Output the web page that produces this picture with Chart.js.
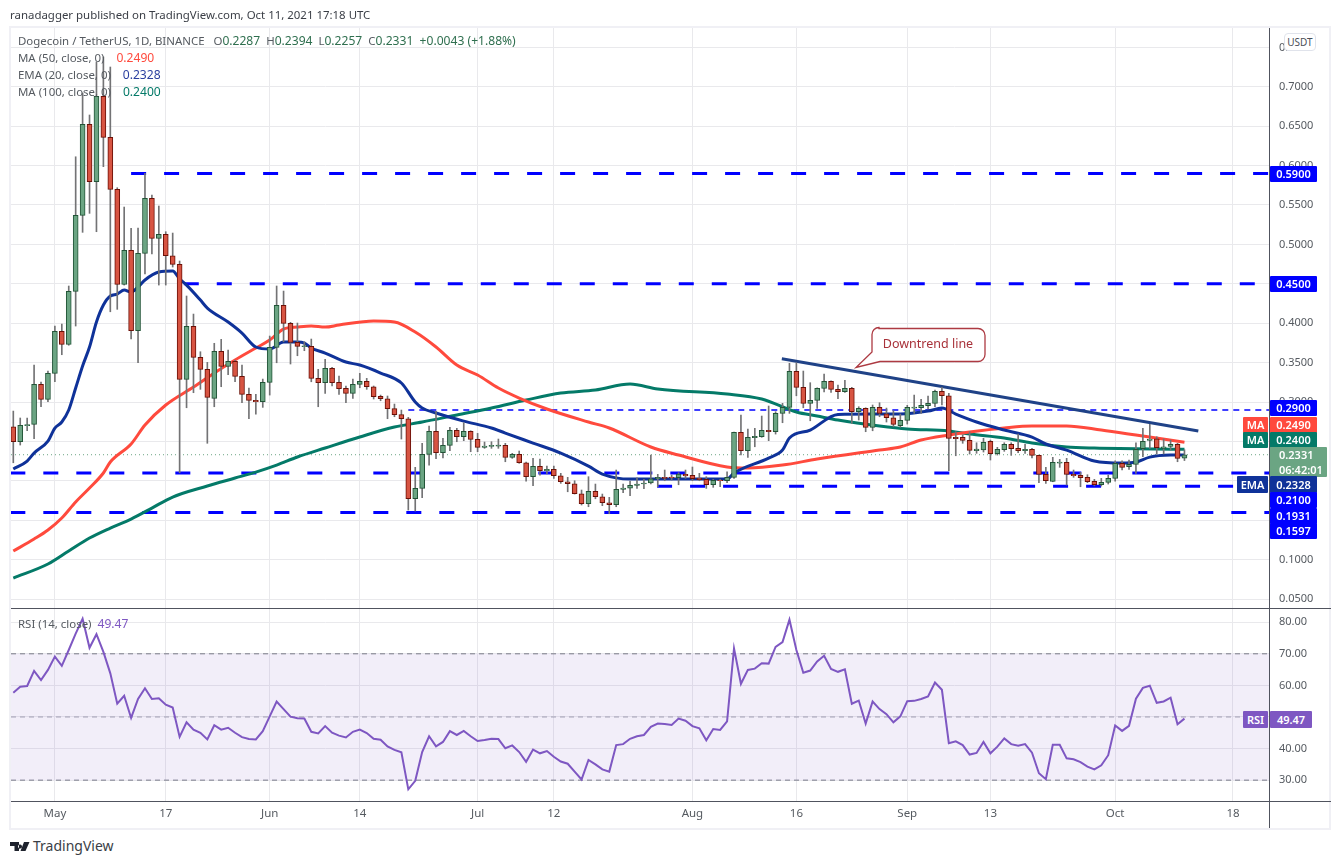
<!DOCTYPE html>
<html><head><meta charset="utf-8">
<script src="https://cdn.jsdelivr.net/npm/chart.js@4"></script>
<style>
html,body{margin:0;padding:0;background:#fff;width:1341px;height:864px;overflow:hidden;font-family:"Noto Sans",sans-serif}
canvas{position:absolute;left:0;display:block}
.t{position:absolute;white-space:pre;font-size:11.45px;line-height:17px;color:#555a60}
.b{position:absolute;color:#fff;font-size:11px;font-weight:600;text-align:center;height:16px;line-height:16px;border-radius:1px}
.hl,.vl{position:absolute;background:#50535e}
</style></head><body>
<div style="position:absolute;left:9px;top:26px;width:1322px;height:804px;box-sizing:border-box;border:2px solid #f0f0f5"></div>
<canvas id="main" width="1331" height="608" style="top:0"></canvas>
<canvas id="rsi" width="1331" height="220" style="top:608px"></canvas>
<div class="hl" style="left:11px;top:608px;width:1320px;height:1px"></div>
<div class="hl" style="left:11px;top:801px;width:1320px;height:1px"></div>
<div class="vl" style="left:1269px;top:28px;width:1px;height:800px"></div>
<div id="overlay"></div>
<svg style="position:absolute;left:0;top:0" width="1341" height="864">
<path d="M879 328.5h99a7 7 0 0 1 7 7v19a7 7 0 0 1-7 7h-98l-24 6 16-15.500v-17.500a7 7 0 0 1 7-7z" fill="#fff" stroke="#ad3a42" stroke-width="1.3"/>
<text x="928" y="348" text-anchor="middle" font-family="Noto Sans" font-size="12.5" fill="#a8323a">Downtrend line</text>
<path d="M10 842h9v9h-4.500v-5H10z M20 844.500a2 2 0 1 0 .01 0z M24 842h5.500l-4 9h-5z" fill="#1e222d"/>
</svg>
<script>
const opens=[.2686,.2496,.2701,.2717,.3224,.3034,.3364,.3897,.3732,.4404,.5369,.6524,.5795,.6879,.6359,.5699,.4493,.4925,.3904,.4887,.5585,.5077,.5128,.4856,.4747,.3288,.3960,.3567,.3415,.3047,.3643,.3453,.3516,.3326,.3097,.3021,.3003,.3250,.3694,.4227,.3998,.3757,.3701,.3706,.3300,.3245,.3427,.3250,.3173,.3110,.3224,.3262,.3194,.3072,.3041,.2915,.2839,.2788,.1772,.1904,.2336,.2628,.2356,.2450,.2640,.2559,.2628,.2526,.2425,.2437,.2441,.2450,.2298,.2336,.2229,.2052,.2184,.2128,.2145,.2064,.1988,.1963,.1836,.1709,.1866,.1798,.1722,.1696,.1892,.1908,.1942,.1959,.1972,.2026,.2044,.2048,.2039,.2082,.2069,.2035,.2019,.1950,.2010,.2001,.2044,.2615,.2382,.2547,.2559,.2640,.2623,.2856,.2932,.3389,.3186,.2983,.3021,.3173,.3262,.3161,.3130,.3173,.2877,.2920,.2679,.2932,.2851,.2800,.2699,.2767,.2923,.2927,.2953,.2983,.3135,.3079,.2552,.2552,.2514,.2382,.2391,.2501,.2343,.2394,.2463,.2412,.2382,.2399,.2323,.2082,.1993,.2225,.2234,.2082,.2069,.2044,.1993,.1950,.1981,.2031,.2222,.2179,.2209,.2407,.2514,.2534,.2412,.2437,.2463,.2287];
const highs=[.2885,.2797,.2797,.3469,.3253,.3393,.3964,.3989,.4472,.6112,.6921,.6642,.7314,.7378,.7251,.5719,.5474,.5204,.5208,.5902,.5626,.5487,.5161,.5144,.4789,.4345,.4116,.3638,.3503,.3745,.3795,.3659,.3533,.3469,.3177,.3097,.3291,.3837,.4472,.4408,.4011,.4002,.3765,.3799,.3415,.3541,.3440,.3330,.3203,.3291,.3364,.3300,.3203,.3088,.3076,.2974,.2898,.2805,.2171,.2476,.2695,.2882,.2539,.2679,.2666,.2737,.2635,.2602,.2492,.2496,.2530,.2476,.2349,.2378,.2238,.2285,.2276,.2187,.2187,.2095,.2044,.2001,.1883,.2052,.1959,.1832,.1790,.2137,.1959,.1997,.2039,.2019,.2327,.2082,.2137,.2073,.2102,.2137,.2175,.2095,.2052,.2019,.2019,.2115,.2619,.2835,.2657,.2666,.2822,.2949,.2877,.2983,.3491,.3498,.3393,.3245,.3181,.3355,.3270,.3215,.3275,.3186,.2940,.2927,.2962,.2991,.2923,.2889,.2847,.2958,.3088,.3034,.3076,.3152,.3186,.3110,.2623,.2581,.2623,.2483,.2539,.2517,.2425,.2483,.2483,.2593,.2463,.2412,.2327,.2171,.2298,.2272,.2285,.2137,.2107,.2077,.2019,.2031,.2073,.2255,.2255,.2264,.2483,.2666,.2717,.2559,.2530,.2517,.2476,.2394];
const lows=[.2229,.2454,.2635,.2534,.2940,.3003,.3257,.3600,.3720,.3964,.5153,.5394,.5161,.5986,.4145,.4176,.4484,.3799,.3498,.4624,.4878,.4484,.4484,.4713,.2102,.2927,.3118,.3161,.2476,.2940,.3194,.3346,.3257,.2991,.2788,.2847,.2932,.3088,.3498,.3765,.3482,.3587,.3651,.3257,.2940,.3110,.3203,.3097,.2991,.3047,.3181,.3161,.3038,.3016,.2788,.2813,.2530,.1629,.1616,.1785,.2200,.2280,.2289,.2382,.2496,.2509,.2369,.2369,.2412,.2412,.2412,.2242,.2285,.2222,.1997,.1937,.2073,.2086,.2031,.1968,.1861,.1832,.1693,.1671,.1772,.1684,.1582,.1671,.1849,.1811,.1904,.1899,.1959,.1925,.2001,.2010,.1950,.2031,.2001,.2001,.1904,.1917,.1925,.1976,.2031,.2327,.2298,.2432,.2552,.2509,.2593,.2737,.2856,.3079,.2927,.2762,.2920,.3127,.3123,.3042,.3123,.2729,.2771,.2623,.2635,.2813,.2746,.2686,.2679,.2720,.2856,.2856,.2911,.2940,.2962,.2128,.2318,.2476,.2340,.2349,.2365,.2264,.2327,.2374,.2323,.2356,.2349,.2289,.1976,.1968,.1988,.2171,.1946,.2044,.1925,.1976,.1937,.1934,.1959,.1997,.2137,.2145,.2095,.2305,.2412,.2340,.2340,.2391,.2242,.2257];
const closes=[.2496,.2704,.2714,.3224,.3034,.3364,.3897,.3732,.4404,.5369,.6524,.5795,.6879,.6359,.5699,.4493,.4925,.3904,.4887,.5585,.5077,.5128,.4856,.4747,.3288,.3960,.3567,.3415,.3059,.3643,.3453,.3516,.3326,.3097,.3021,.3003,.3250,.3694,.4227,.3998,.3757,.3706,.3714,.3300,.3245,.3427,.3245,.3168,.3110,.3224,.3262,.3194,.3067,.3041,.2915,.2839,.2788,.1772,.1904,.2336,.2628,.2356,.2450,.2640,.2559,.2628,.2526,.2425,.2441,.2450,.2454,.2298,.2336,.2229,.2052,.2184,.2128,.2145,.2064,.1988,.1963,.1836,.1709,.1866,.1798,.1722,.1696,.1892,.1908,.1942,.1959,.1972,.2026,.2044,.2031,.2039,.2086,.2061,.2026,.2014,.1950,.2006,.2001,.2044,.2615,.2382,.2552,.2564,.2640,.2623,.2856,.2932,.3389,.3186,.2983,.3021,.3173,.3262,.3161,.3130,.3173,.2877,.2920,.2679,.2932,.2856,.2800,.2717,.2767,.2932,.2936,.2958,.2983,.3135,.3079,.2539,.2534,.2514,.2387,.2403,.2488,.2343,.2399,.2463,.2407,.2382,.2399,.2323,.2082,.2001,.2234,.2238,.2082,.2064,.2039,.1988,.1950,.1981,.2031,.2222,.2171,.2209,.2399,.2501,.2530,.2420,.2432,.2463,.2285,.2331];
const rsiValues=[57.7,59.6,59.8,64.6,61.7,64.9,69.1,66.2,71.2,76.4,81.1,71.9,76.2,70.6,63.8,54.2,56.7,49.7,55.7,59.1,55.7,55.9,53.9,53.0,43.7,48.3,46.0,45.0,42.9,47.4,46.0,46.6,45.0,43.6,43.0,42.9,45.5,50.2,54.9,52.5,50.1,49.6,49.5,45.3,44.8,47.1,45.0,44.1,43.5,45.3,46.0,44.9,43.1,42.8,40.7,39.6,38.8,27.1,29.8,38.9,43.9,40.7,42.1,45.5,44.3,45.6,43.9,42.4,42.7,43.1,43.0,40.1,41.0,38.9,35.8,39.7,38.5,39.2,37.4,35.9,35.2,32.7,30.2,36.4,35.0,33.4,32.7,41.1,41.4,43.1,43.9,44.3,46.9,47.9,47.8,47.5,49.5,48.8,47.1,46.4,42.6,46.2,45.9,48.6,71.7,60.5,64.9,65.3,67.0,66.9,72.2,73.7,80.8,71.2,64.0,64.7,67.6,69.4,65.2,64.3,65.1,54.2,55.2,47.9,54.9,52.5,50.9,48.3,50.2,55.0,55.1,55.7,56.5,60.9,58.6,41.7,42.3,41.1,38.1,38.6,42.1,38.5,40.6,43.2,41.4,40.9,41.4,38.7,32.2,30.3,41.2,41.2,36.9,36.6,35.7,34.3,33.4,34.7,37.9,47.3,45.6,47.2,55.8,59.2,59.9,54.5,54.9,56.1,47.7,49.47];

const emaDays=[0,2,3,5,6,7,8,9,10,11,12,13,14,15,16,17,18,19,21,23,24,25,27,28,31,33,35,37,39,41,42,43,45,48,50,53,56,58,59,61,65,69,71,75,79,83,85,89,103,104,109,111,112,115,119,124,128,132,134,136,139,143,147,149,152,156,160,162,164,167,169];
const emaValues=[.2149,.2251,.2352,.2505,.2670,.2746,.2898,.3177,.3457,.3698,.4015,.4230,.4345,.4370,.4421,.4396,.4459,.4548,.4649,.4662,.4561,.4484,.4294,.4192,.4015,.3875,.3698,.3672,.3761,.3761,.3748,.3685,.3621,.3507,.3469,.3368,.3241,.3000,.2923,.2860,.2758,.2670,.2606,.2479,.2352,.2187,.2086,.2022,.2022,.2099,.2289,.2390,.2543,.2644,.2841,.2847,.2847,.2885,.2923,.2847,.2746,.2644,.2555,.2467,.2390,.2251,.2225,.2238,.2301,.2327,.2328];
const ma50Days=[0,3,5,7,9,11,13,14,17,19,22,26,29,32,35,37,39,41,43,45,47,52,55,58,61,64,67,70,73,77,83,86,92,96,103,106,111,116,125,128,131,135,138,143,147,152,157,162,169];
const ma50Values=[.1109,.1261,.1375,.1528,.1731,.1908,.2099,.2238,.2467,.2708,.2962,.3190,.3368,.3533,.3685,.3786,.3926,.3951,.3964,.3951,.3977,.4028,.4015,.3888,.3698,.3469,.3342,.3177,.3050,.2911,.2746,.2670,.2429,.2327,.2175,.2162,.2200,.2276,.2391,.2429,.2517,.2581,.2619,.2670,.2695,.2695,.2644,.2581,.2490];
const ma100Days=[0,5,8,11,14,17,20,23,28,32,35,38,41,45,50,55,59,64,69,74,79,84,89,93,103,108,113,116,119,125,129,135,138,143,147,152,156,169];
const ma100Values=[.0766,.0944,.1109,.1274,.1401,.1515,.1654,.1794,.1934,.2035,.2111,.2200,.2302,.2416,.2556,.2682,.2746,.2835,.2923,.3025,.3114,.3152,.3228,.3165,.3101,.3038,.2873,.2822,.2771,.2695,.2657,.2632,.2593,.2543,.2479,.2429,.2416,.2400];

const tickDays=[6,22,37,50,67,78,98,113,129,141,159,176];
const tickNames=["May","17","Jun","14","Jul","12","Aug","16","Sep","13","Oct","18"];
const priceTicks=[.05,.10,.15,.20,.25,.30,.35,.40,.45,.50,.55,.60,.65,.70,.75];
const rsiTicks=[30,40,50,60,70,80];
const levelPrices=[.59,.45,.29,.21,.1931,.1597];
const levelStarts=[17,24.6,57,-.43,92.9,-.43];
const trendDays=[110.9,171];
const trendPrices=[.3549,.2631];
const lastPrice=.2331;
const rsiLevels=[70,50,30];

const xMin=-.332, xMax=181.2;
const days=opens.map((_,i)=>i);
const pairs=(xs,ys)=>xs.map((x,i)=>({x,y:ys[i]}));
const up=days.map(i=>closes[i]>=opens[i]);
const line=(data,color,width,order,extra)=>Object.assign({type:'line',data,borderColor:color,borderWidth:width,pointRadius:0,tension:0,order,fill:false,borderCapStyle:'butt'},extra||{});
const smooth={cubicInterpolationMode:'monotone'};
const grid='#e9e9ec';
const xAxis=(show)=>({type:'linear',min:xMin,max:xMax,offset:false,
  afterBuildTicks(s){s.ticks=tickDays.map(v=>({value:v}))},
  afterFit(s){s.height=show?27:0;s.paddingLeft=0;s.paddingRight=0;s.paddingTop=0;s.paddingBottom=0},
  grid:{color:grid,lineWidth:1,drawTicks:false,offset:false},border:{display:false},
  ticks:{display:show,maxRotation:0,autoSkip:false,padding:6,color:'#555a60',font:{family:'Noto Sans',size:11.5},
    callback(v){const k=tickDays.indexOf(v);return k<0?'':tickNames[k]}}});
const yAxis=(min,max,ticks,dec)=>({position:'right',min,max,
  afterBuildTicks(s){s.ticks=ticks.map(v=>({value:v}))},
  afterFit(s){s.width=62;s.paddingLeft=0;s.paddingRight=0;s.paddingTop=0;s.paddingBottom=0},
  grid:{color:grid,lineWidth:1,drawTicks:false},border:{display:false},
  ticks:{padding:10,color:'#555a60',font:{family:'Noto Sans',size:11},callback(v){return v.toFixed(dec)}}});
const base={responsive:false,animation:false,devicePixelRatio:1,events:[],
  plugins:{legend:{display:false},tooltip:{enabled:false}}};
Chart.defaults.font.family='Noto Sans';

new Chart(document.getElementById('main'),{type:'bar',data:{datasets:[
  {label:'Body',data:days.map(i=>({x:i,y:[opens[i],closes[i]]})),barThickness:5,grouped:false,borderWidth:1,borderSkipped:false,
   backgroundColor:up.map(u=>u?'#6ba583':'#d75442'),borderColor:up.map(u=>u?'#225437':'#6b1007'),order:0},
  {label:'Wick',data:days.map(i=>({x:i,y:[lows[i],highs[i]]})),barThickness:1,grouped:false,borderWidth:0,backgroundColor:'#737375',order:1},
  line(pairs(trendDays,trendPrices),'#1f4287',3,2,{label:'Downtrend line'}),
  line(pairs(emaDays,emaValues),'#0f3299',3,3,Object.assign({label:'EMA (20)'},smooth)),
  line(pairs(ma50Days,ma50Values),'#ff4a3d',3,4,Object.assign({label:'MA (50)'},smooth)),
  line(pairs(ma100Days,ma100Values),'#047a68',3,5,Object.assign({label:'MA (100)'},smooth)),
  ...levelPrices.map((p,k)=>line([{x:levelStarts[k],y:p},{x:xMax,y:p}],'#0000ff',p===.29?1.5:3,6,{label:'Level '+p,borderDash:p===.29?[6,5]:[15,18]})),
  line([{x:xMin,y:lastPrice},{x:xMax,y:lastPrice}],'#6ba583',1,7,{label:'Last',borderDash:[1,3]})
]},options:Object.assign({},base,{layout:{padding:{left:11,top:28,right:0,bottom:0}},
  scales:{x:xAxis(false),y:yAxis(.0386,.7746,priceTicks,4)}})});

new Chart(document.getElementById('rsi'),{type:'line',data:{datasets:[
  line(pairs(days,rsiValues),'#7e57c2',2,0,{label:'RSI'}),
  line([{x:xMin,y:rsiLevels[0]},{x:xMax,y:rsiLevels[0]}],'#787b86',1,1,{label:'Upper',borderDash:[5,4],fill:{target:{value:rsiLevels[2]}},backgroundColor:'rgba(126,87,194,0.1)'}),
  line([{x:xMin,y:rsiLevels[1]},{x:xMax,y:rsiLevels[1]}],'#a5a7b0',1,1,{label:'Middle',borderDash:[5,4]}),
  line([{x:xMin,y:rsiLevels[2]},{x:xMax,y:rsiLevels[2]}],'#787b86',1,1,{label:'Lower',borderDash:[5,4]})
]},options:Object.assign({},base,{layout:{padding:{left:11,top:0,right:0,bottom:0}},
  scales:{x:xAxis(true),y:yAxis(23.4,84.5,rsiTicks,2)}})});

const ov=document.getElementById('overlay');
function text(x,y,parts,size){const d=document.createElement('div');d.className='t';d.style.left=x+'px';d.style.top=y+'px';if(size)d.style.fontSize=size+'px';
  parts.forEach(([s,c,v])=>{const e=document.createElement('span');e.textContent=s;if(c)e.style.color=c;if(v){e.style.fontSize='12.1px';}d.appendChild(e)});ov.appendChild(d)}
function badge(l,w,cy,h,bg,s){const d=document.createElement('div');d.className='b';d.style.cssText+=`left:${l}px;width:${w}px;top:${cy-h/2}px;height:${h}px;line-height:${h}px;background:${bg}`;d.textContent=s;ov.appendChild(d);return d}
text(10,6,[['ranadagger published on TradingView.com, Oct 11, 2021 17:18 UTC','#3a3e46']]);
const G='#2f6f4f';
text(18,32,[['Dogecoin / TetherUS, 1D, BINANCE   '],['O',null],['0.2287',G,1],['  H'],['0.2394',G,1],['  L'],['0.2257',G,1],['  C'],['0.2331',G,1],['  +0.0043 (+1.88%)',G,1]]);
text(18,49,[['MA (50, close, 0)    '],['0.2490','#ff4a3d',1]]);
text(18,66,[['EMA (20, close, 0)    '],['0.2328','#2a3f9f',1]]);
text(18,83,[['MA (100, close, 0)    '],['0.2400','#047a68',1]]);
text(33,837,[['TradingView','#3a3e46']],14);
text(18,615,[['RSI (14, close)  '],['49.47','#7e57c2',1]]);
const B='#0000ff';
badge(1270,47,173.5,16,B,'0.5900');badge(1270,47,284,16,B,'0.4500');badge(1270,47,408,16,B,'0.2900');
badge(1243,25,425,16,'#ff4a3d','MA');badge(1270,47,425,16,'#ff4a3d','0.2490');
badge(1243,25,440,16,'#047a68','MA');badge(1270,47,440,16,'#047a68','0.2400');
const lb=badge(1270,57,462,30,'#6ba583','');lb.style.lineHeight='15px';lb.style.textAlign='left';lb.style.paddingLeft='9px';lb.style.width='48px';lb.innerHTML='0.2331<br>06:42:01';
badge(1237,31,484,17,'#0f3299','EMA');badge(1270,47,484,17,'#0f3299','0.2328');
badge(1270,47,500,16,B,'0.2100');badge(1270,47,516,16,B,'0.1931');badge(1270,47,531,16,B,'0.1597');
badge(1243,25,719.5,17,'#7e57c2','RSI');badge(1270,42,719.5,17,'#7e57c2','49.47');
const u=document.createElement('div');u.className='t';u.style.cssText+='left:1284px;top:33px;width:32px;height:18px;line-height:17px;box-sizing:border-box;border:1px solid #e0e3eb;border-radius:4px;background:#fff;text-align:center;font-size:10px;color:#4a4e57';u.textContent='USDT';ov.appendChild(u);
</script>
</body></html>
